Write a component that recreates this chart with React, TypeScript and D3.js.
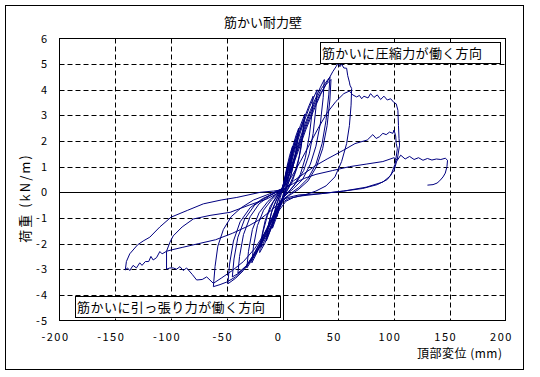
import React from "react";
import * as d3 from "d3";

const title = "筋かい耐力壁";
const xTitle = "頂部変位 (mm)";
const yTitle = "荷重 (kN/m)";
const legendCompression = "筋かいに圧縮力が働く方向";
const legendTension = "筋かいに引っ張り力が働く方向";
const xTicks = [-200, -150, -100, -50, 0, 50, 100, 150, 200];
const yTicks = [6, 5, 4, 3, 2, 1, 0, -1, -2, -3, -4, -5];

type P = [number, number];
const cycle01: P[] = [[0,0],[1.5,0.4],[3,0.75],[5,1.05],[4.2,0.7],[2.5,0.25],[0.5,-0.1],[-1.5,-0.45],[-3.5,-0.75],[-5,-0.95],[-4,-0.6],[-2,-0.2],[0,0.1]];
const cycle02: P[] = [[0,0.1],[2,0.55],[4,1.0],[6.5,1.45],[9,1.8],[8,1.35],[6,0.75],[3,0.2],[0,-0.25],[-3,-0.65],[-6,-1.05],[-9,-1.4],[-8,-1.0],[-5,-0.45],[-2,-0.1],[0,0.15]];
const cycle03: P[] = [[0,0.15],[3,0.65],[6,1.15],[9,1.65],[8.2,1.2],[5.5,0.55],[2.5,0.05],[0,-0.3],[-3,-0.6],[-6,-0.95],[-9,-1.3],[-7.8,-0.85],[-4.5,-0.35],[-1.5,0],[0,0.2]];
const cycle04: P[] = [[0,0.2],[3,0.7],[6,1.25],[9,1.75],[12,2.2],[14.5,2.5],[13.5,2.0],[11,1.3],[7.5,0.65],[4,0.2],[1,-0.15],[-2,-0.45],[-5,-0.8],[-8,-1.15],[-11,-1.5],[-14.5,-1.9],[-13.2,-1.4],[-10,-0.8],[-6,-0.35],[-2.5,-0.05],[0,0.15]];
const cycle05: P[] = [[0,0.15],[4,0.75],[8,1.4],[11,1.9],[14,2.3],[12.8,1.8],[10,1.1],[6.5,0.5],[3,0.1],[0,-0.25],[-4,-0.7],[-8,-1.15],[-11.5,-1.5],[-14,-1.75],[-12.5,-1.25],[-9,-0.65],[-5,-0.25],[-1.5,0.05],[0,0.2]];
const cycle06: P[] = [[0,0.2],[4,0.8],[8,1.5],[12,2.1],[16,2.6],[20,3.05],[19,2.5],[16.5,1.7],[13,0.95],[8.5,0.4],[4,0.05],[0,-0.3],[-4,-0.7],[-8,-1.15],[-12,-1.6],[-16,-2.0],[-20.5,-2.35],[-19,-1.8],[-15.5,-1.1],[-11,-0.55],[-6,-0.2],[-2,0.05],[0,0.2]];
const cycle07: P[] = [[0,0.2],[5,0.85],[10,1.65],[14,2.2],[19,2.8],[18,2.2],[15,1.4],[11,0.75],[6,0.25],[1,-0.15],[-4,-0.6],[-9,-1.15],[-14,-1.7],[-19,-2.15],[-17.5,-1.55],[-13.5,-0.9],[-8.5,-0.4],[-3.5,-0.05],[0,0.15]];
const cycle08: P[] = [[0,0.15],[5,0.8],[10,1.6],[15,2.35],[20,2.95],[24,3.4],[27.5,3.75],[26.5,3.1],[24,2.2],[20.5,1.35],[16,0.7],[10,0.25],[4,-0.05],[0,-0.25],[-5,-0.65],[-10,-1.15],[-15,-1.65],[-20,-2.1],[-24,-2.45],[-27.5,-2.75],[-26,-2.1],[-22.5,-1.3],[-17,-0.7],[-10,-0.3],[-4,-0.05],[0,0.15]];
const cycle09: P[] = [[0,0.15],[6,0.85],[12,1.8],[18,2.6],[24,3.3],[28,3.7],[31,4.0],[30,3.3],[27.5,2.3],[24,1.5],[19,0.85],[12,0.35],[5,0.0],[0,-0.2],[-6,-0.7],[-12,-1.3],[-18,-1.9],[-24,-2.4],[-29,-2.75],[-32,-2.95],[-30.5,-2.3],[-27,-1.45],[-21,-0.8],[-13,-0.35],[-5,-0.05],[0,0.1]];
const cycle10: P[] = [[0,0.1],[5,0.6],[10,1.3],[15,2.0],[20,2.65],[25,3.2],[30,3.7],[34,4.1],[37.5,4.4],[36.5,3.7],[34,2.7],[30,1.8],[25,1.1],[18,0.5],[10,0.15],[3,-0.1],[-2,-0.35],[-8,-0.85],[-14,-1.4],[-20,-1.95],[-26,-2.45],[-32,-2.85],[-36,-3.0],[-40,-3.15],[-38.5,-2.5],[-35,-1.65],[-29,-0.95],[-21,-0.45],[-12,-0.15],[-4,0.05],[0,0.15]];
const cycle11: P[] = [[0,0.15],[6,0.7],[12,1.5],[18,2.3],[24,3.0],[30,3.6],[35,4.05],[39,4.3],[42.6,4.5],[41.5,3.8],[39,2.8],[35.5,1.9],[30,1.1],[23,0.55],[15,0.2],[7,-0.05],[0,-0.3],[-6,-0.75],[-13,-1.35],[-20,-1.95],[-27,-2.5],[-33,-2.9],[-39,-3.15],[-45,-3.3],[-43.5,-2.6],[-40,-1.75],[-34,-1.05],[-25,-0.5],[-15,-0.2],[-6,0.0],[0,0.15]];
const cycle12: P[] = [[0,0.15],[7,0.8],[14,1.7],[21,2.55],[28,3.3],[34,3.85],[39,4.2],[43.5,4.4],[42.5,3.6],[40,2.6],[36,1.7],[30.5,1.0],[23,0.45],[14,0.1],[5,-0.15],[0,-0.35],[-7,-0.9],[-14,-1.5],[-21,-2.1],[-28,-2.65],[-35,-3.05],[-42,-3.35],[-49,-3.57],[-47.5,-2.8],[-44,-1.9],[-38,-1.15],[-29,-0.6],[-18,-0.25],[-8,-0.05],[0,0.1]];
const cycle13: P[] = [[0,0.1],[7,0.75],[14,1.6],[21,2.45],[28,3.2],[34,3.8],[40,4.3],[45,4.7],[48,4.9],[50,5.05],[51.5,4.9],[53,5.0],[55,4.85],[57.5,4.84],[58.5,4.55],[60,4.3],[60.5,4.18],[62,4.05],[61.5,3.4],[60,2.6],[57.5,1.9],[53,1.2],[47,0.6],[39,0.25],[30,0.05],[20,-0.1],[10,-0.2],[3,-0.35],[-3,-0.7],[-10,-1.3],[-18,-1.95],[-26,-2.5],[-34,-2.95],[-42,-3.3],[-50,-3.5],[-56,-3.6],[-62,-3.68],[-60.5,-2.9],[-58,-2.1],[-53,-1.45],[-46,-0.95],[-37,-0.6],[-26,-0.3],[-14,-0.1],[-5,0.05],[0,0.15]];
const cycle14: P[] = [[0,0.15],[8,0.6],[16,1.2],[24,1.85],[32,2.5],[40,3.1],[48,3.55],[55,3.85],[60,3.95],[63,3.8],[66.5,3.72],[69,3.78],[71,3.65],[73,3.75],[76.7,3.68],[79,3.85],[82,3.7],[85,3.8],[88,3.62],[91,3.75],[94,3.6],[97,3.65],[100,3.5],[102,3.45],[103.5,3.2],[104,2.6],[104.5,2.1],[105,1.84],[103,1.3],[100,0.85],[94,0.5],[85,0.3],[72,0.15],[55,0.05],[35,-0.05],[15,-0.15],[5,-0.25],[0,-0.4],[-8,-1.0],[-16,-1.6],[-25,-2.2],[-35,-2.7],[-45,-3.05],[-55,-3.35],[-62,-3.55],[-68,-3.3],[-72,-3.4],[-77,-3.42],[-81,-3.2],[-86,-2.95],[-89,-3.05],[-92,-2.9],[-95,-3.0],[-98,-2.95],[-101,-2.95],[-104,-3.0],[-104,-2.3],[-101,-1.95],[-98,-1.7],[-90,-1.35],[-80,-1.04],[-65,-0.9],[-47,-0.78],[-30,-0.5],[-14,-0.26],[-5,-0.05],[0,0.05]];
const cycle15: P[] = [[0,0.05],[10,0.45],[20,0.75],[30,1.05],[40,1.3],[55,1.65],[65,1.9],[76,2.04],[81,2.25],[84,2.1],[87,2.17],[90,2.3],[93,2.25],[96,2.35],[99,2.3],[100,2.43],[101.5,2.2],[102,1.9],[103,1.7],[101,1.1],[97,0.65],[90,0.4],[75,0.2],[55,0.05],[35,-0.05],[15,-0.1],[5,-0.2],[0,-0.3],[-10,-0.7],[-20,-1.05],[-30,-1.3],[-45,-1.6],[-60,-1.85],[-75,-2.0],[-90,-2.15],[-100,-2.25],[-104,-2.3],[-108,-2.4],[-110,-2.31],[-113,-2.55],[-116,-2.64],[-118,-2.5],[-120,-2.7],[-123,-2.7],[-126,-2.85],[-128,-2.75],[-131,-2.95],[-134,-2.85],[-137,-3.05],[-139,-2.95],[-141,-3.03],[-140,-2.7],[-137,-2.4],[-130,-2.05],[-125,-1.9],[-119,-1.75],[-110,-1.35],[-100,-0.97],[-85,-0.7],[-71,-0.45],[-55,-0.3],[-41,-0.2],[-20,0.0],[-8,0.05],[0,0.1]];
const cycle16: P[] = [[0,0.1],[10,0.35],[20,0.55],[30,0.7],[45,0.85],[60,1.0],[75,1.1],[90,1.2],[100,1.35],[103,1.25],[106,1.45],[110,1.3],[114,1.4],[118,1.28],[122,1.35],[126,1.25],[130,1.32],[134,1.26],[138,1.3],[142,1.28],[146,1.33],[148,1.25],[147.5,1.0],[146,0.75],[144,0.6],[141,0.45],[138.6,0.36],[135,0.3],[130,0.28]];

const cycles = [cycle01, cycle02, cycle03, cycle04, cycle05, cycle06, cycle07, cycle08, cycle09, cycle10, cycle11, cycle12, cycle13, cycle14, cycle15, cycle16];

export default function App() {
  const W = 540, H = 377;
  const left = 59.5, right = 505.5, top = 38.5, bottom = 320.5;
  const x = d3.scaleLinear().domain([-200, 200]).range([left, right]);
  const y = d3.scaleLinear().domain([-5, 6]).range([bottom, top]);
  const pts: P[] = ([] as P[]).concat(...cycles);
  const line = d3.line<P>().x(d => x(d[0])).y(d => y(d[1]));
  const jp = "'Noto Sans CJK JP', sans-serif";
  return (
    <svg width={W} height={H} style={{ position: "absolute", left: 0, top: 0, background: "#fff" }} fontFamily={jp}>
      <rect x={5.5} y={5.5} width={518} height={364} fill="#fff" stroke="#000" strokeWidth={1} />
      <text x={263} y={27} textAnchor="middle" fontSize={13} textLength={78} lengthAdjust="spacing">{title}</text>
      {/* grid */}
      {xTicks.filter(t => t !== 0 && t !== -200 && t !== 200).map(t => (
        <line key={"gx" + t} x1={Math.round(x(t)) + 0.5} x2={Math.round(x(t)) + 0.5} y1={top} y2={bottom} stroke="#000" strokeDasharray="5,3" />
      ))}
      {yTicks.filter(t => t !== 0 && t !== 6 && t !== -5).map(t => (
        <line key={"gy" + t} x1={left} x2={right} y1={Math.round(y(t)) + 0.5} y2={Math.round(y(t)) + 0.5} stroke="#000" strokeDasharray="5,3" />
      ))}
      <line x1={Math.round(x(0)) + 0.5} x2={Math.round(x(0)) + 0.5} y1={top} y2={bottom} stroke="#000" />
      <line x1={left} x2={right} y1={Math.round(y(0)) + 0.5} y2={Math.round(y(0)) + 0.5} stroke="#000" />
      <rect x={left} y={top} width={right - left} height={bottom - top} fill="none" stroke="#000" />
      {/* curve */}
      <path d={line(pts) || ""} fill="none" stroke="#000080" strokeWidth={1} strokeLinejoin="round" />
      {/* legends */}
      <rect x={320.5} y={42.5} width={180} height={21} fill="#fff" stroke="#000" />
      <text x={322} y={58} fontSize={13} textLength={160} lengthAdjust="spacing">{legendCompression}</text>
      <rect x={75.5} y={296.5} width={205} height={21} fill="#fff" stroke="#000" />
      <text x={77} y={312} fontSize={13} textLength={188} lengthAdjust="spacing">{legendTension}</text>
      {/* tick labels */}
      {yTicks.map(t => (
        <text key={"yl" + t} x={48} y={y(t) + 4} textAnchor="end" fontSize={11} letterSpacing={1}>{t < 0 ? "-" + Math.abs(t) : String(t)}</text>
      ))}
      {xTicks.map(t => (
        <text key={"xl" + t} x={x(t) - 4} y={341} textAnchor="middle" fontSize={11} letterSpacing={1.5}>{t < 0 ? "-" + Math.abs(t) : String(t)}</text>
      ))}
      <text x={417} y={358} fontSize={12} letterSpacing={0.5}>{xTitle}</text>
      <text transform="translate(30,198) rotate(-90)" textAnchor="middle" fontSize={13} letterSpacing={2}>{yTitle}</text>
    </svg>
  );
}
